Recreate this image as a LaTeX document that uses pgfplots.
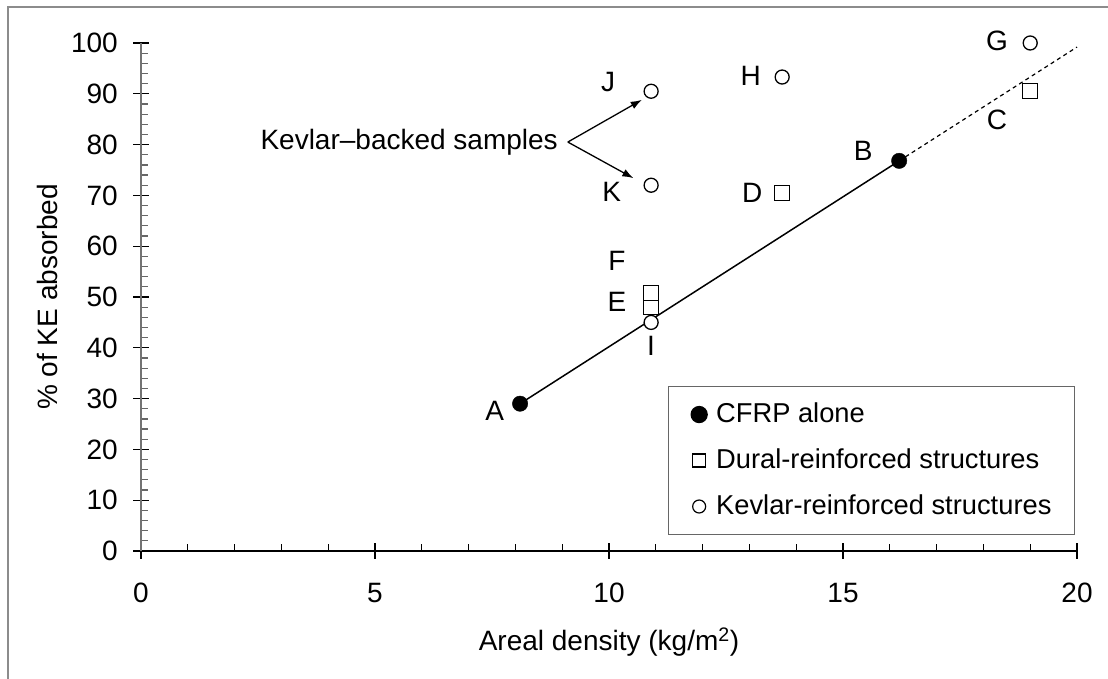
\documentclass[border=0pt]{standalone}
\usepackage{fontspec}
\setmainfont{Liberation Sans}
\usepackage{pgfplots}
\pgfplotsset{compat=1.18}
\usetikzlibrary{arrows.meta}

\begin{document}
\fontsize{28}{34}\selectfont
\begin{tikzpicture}[x=1pt,y=1pt]
\useasboundingbox (0,0) rectangle (1108,679);
% outer frame (only left and top edges show)
\draw[black!45, line width=1.8pt] (8,-2) -- (8,672) -- (1110,672);
\begin{axis}[
  at={(141pt,128pt)}, anchor=south west,
  scale only axis, width=936pt, height=508pt,
  xmin=0, xmax=20, ymin=0, ymax=100,
  clip=false,
  axis x line=bottom, axis y line=left,
  x axis line style={-, black, line width=1.3pt},
  y axis line style={-, black!55, line width=2pt},
  xtick={0,5,10,15,20}, ytick={0,10,20,30,40,50,60,70,80,90,100},
  xticklabels={0,5,10,15,20},
  yticklabels={0,10,20,30,40,50,60,70,80,90,100},
  minor x tick num=4, minor y tick num=4,
  tick align=inside,
  major tick length=16pt, minor tick length=7pt,
  major x tick style={yshift=-8pt},
  major y tick style={xshift=-8pt},
  tick style={black, line width=1.2pt},
  minor y tick style={black!60},
  tick label style={inner sep=0pt, font=\fontsize{28}{34}\selectfont},
  xticklabel style={anchor=north, yshift=-32pt},
  yticklabel style={anchor=east, xshift=-23pt},
  xlabel={Areal density (kg/m\textsuperscript{2})},
  ylabel={\% of KE absorbed},
  label style={font=\fontsize{28}{34}\selectfont},
  xlabel style={at={(axis description cs:0.5,-0.1791)}, anchor=center, inner sep=0pt},
  ylabel style={at={(axis description cs:-0.1004,0.5)}, anchor=center, inner sep=0pt},
  legend style={at={(axis description cs:0.998,0.325)}, anchor=north east,
    draw=black!60, line width=1.3pt, inner xsep=23pt, inner ysep=16pt,
    row sep=22pt, column sep=9pt, nodes={inner sep=0pt},
    font=\fontsize{27.3}{33}\selectfont},
  legend cell align=left,
  legend image code/.code={\draw[#1] plot coordinates {(0pt,0pt)};},
]
% fitted line for CFRP alone, dashed beyond B
\addplot[black, line width=1.5pt, forget plot] coordinates {(8.1,29) (16.2,76.8)};
\addplot[black, line width=1.2pt, dash pattern=on 4pt off 3.5pt, forget plot] coordinates {(16.2,76.8) (20,99.2)};

% CFRP alone: A, B
\addplot[only marks, mark=*, mark size=7.7pt, black, forget plot] coordinates {(8.1,29) (16.2,76.8)};
% Dural-reinforced: C, D, E, F
\addplot[only marks, mark=square*, mark size=7.5pt, mark options={draw=black, fill=white, line width=1.3pt}, forget plot]
  coordinates {(19.0,90.5) (13.7,70.5) (10.9,48) (10.9,50.8)};
% Kevlar-reinforced: G, H, I, J, K
\addplot[only marks, mark=*, mark size=7pt, mark options={draw=black, fill=white, line width=1.3pt}, forget plot]
  coordinates {(19.0,100) (13.7,93.3) (10.9,45) (10.9,90.5) (10.9,72)};

\addlegendimage{only marks, mark=*, mark size=8pt, black}
\addlegendentry{CFRP alone}
\addlegendimage{only marks, mark=square, mark size=6.5pt, black, line width=1.2pt}
\addlegendentry{Dural-reinforced structures}
\addlegendimage{only marks, mark=o, mark size=6.5pt, black, line width=1.2pt}
\addlegendentry{Kevlar-reinforced structures}

\node[inner sep=0pt] at (axis cs:7.56,27.6) {A};
\node[inner sep=0pt] at (axis cs:15.43,78.7) {B};
\node[inner sep=0pt] at (axis cs:18.29,84.8) {C};
\node[inner sep=0pt] at (axis cs:13.06,70.5) {D};
\node[inner sep=0pt] at (axis cs:10.17,49.0) {E};
\node[inner sep=0pt] at (axis cs:10.17,57.1) {F};
\node[inner sep=0pt] at (axis cs:18.29,100.4) {G};
\node[inner sep=0pt] at (axis cs:13.03,93.5) {H};
\node[inner sep=0pt] at (axis cs:10.9,40.4) {I};
\node[inner sep=0pt] at (axis cs:9.98,92.3) {J};
\node[inner sep=0pt] at (axis cs:10.06,70.7) {K};

\node[inner sep=0pt, anchor=east] at (axis cs:8.91,80.4) {Kevlar–backed samples};
\draw[-{Latex[length=11pt,width=8pt]}, line width=1.3pt] (axis cs:9.12,80.5) -- (axis cs:10.7,88.8);
\draw[-{Latex[length=11pt,width=8pt]}, line width=1.3pt] (axis cs:9.12,80.5) -- (axis cs:10.52,73.4);
\end{axis}
\end{tikzpicture}
\end{document}
